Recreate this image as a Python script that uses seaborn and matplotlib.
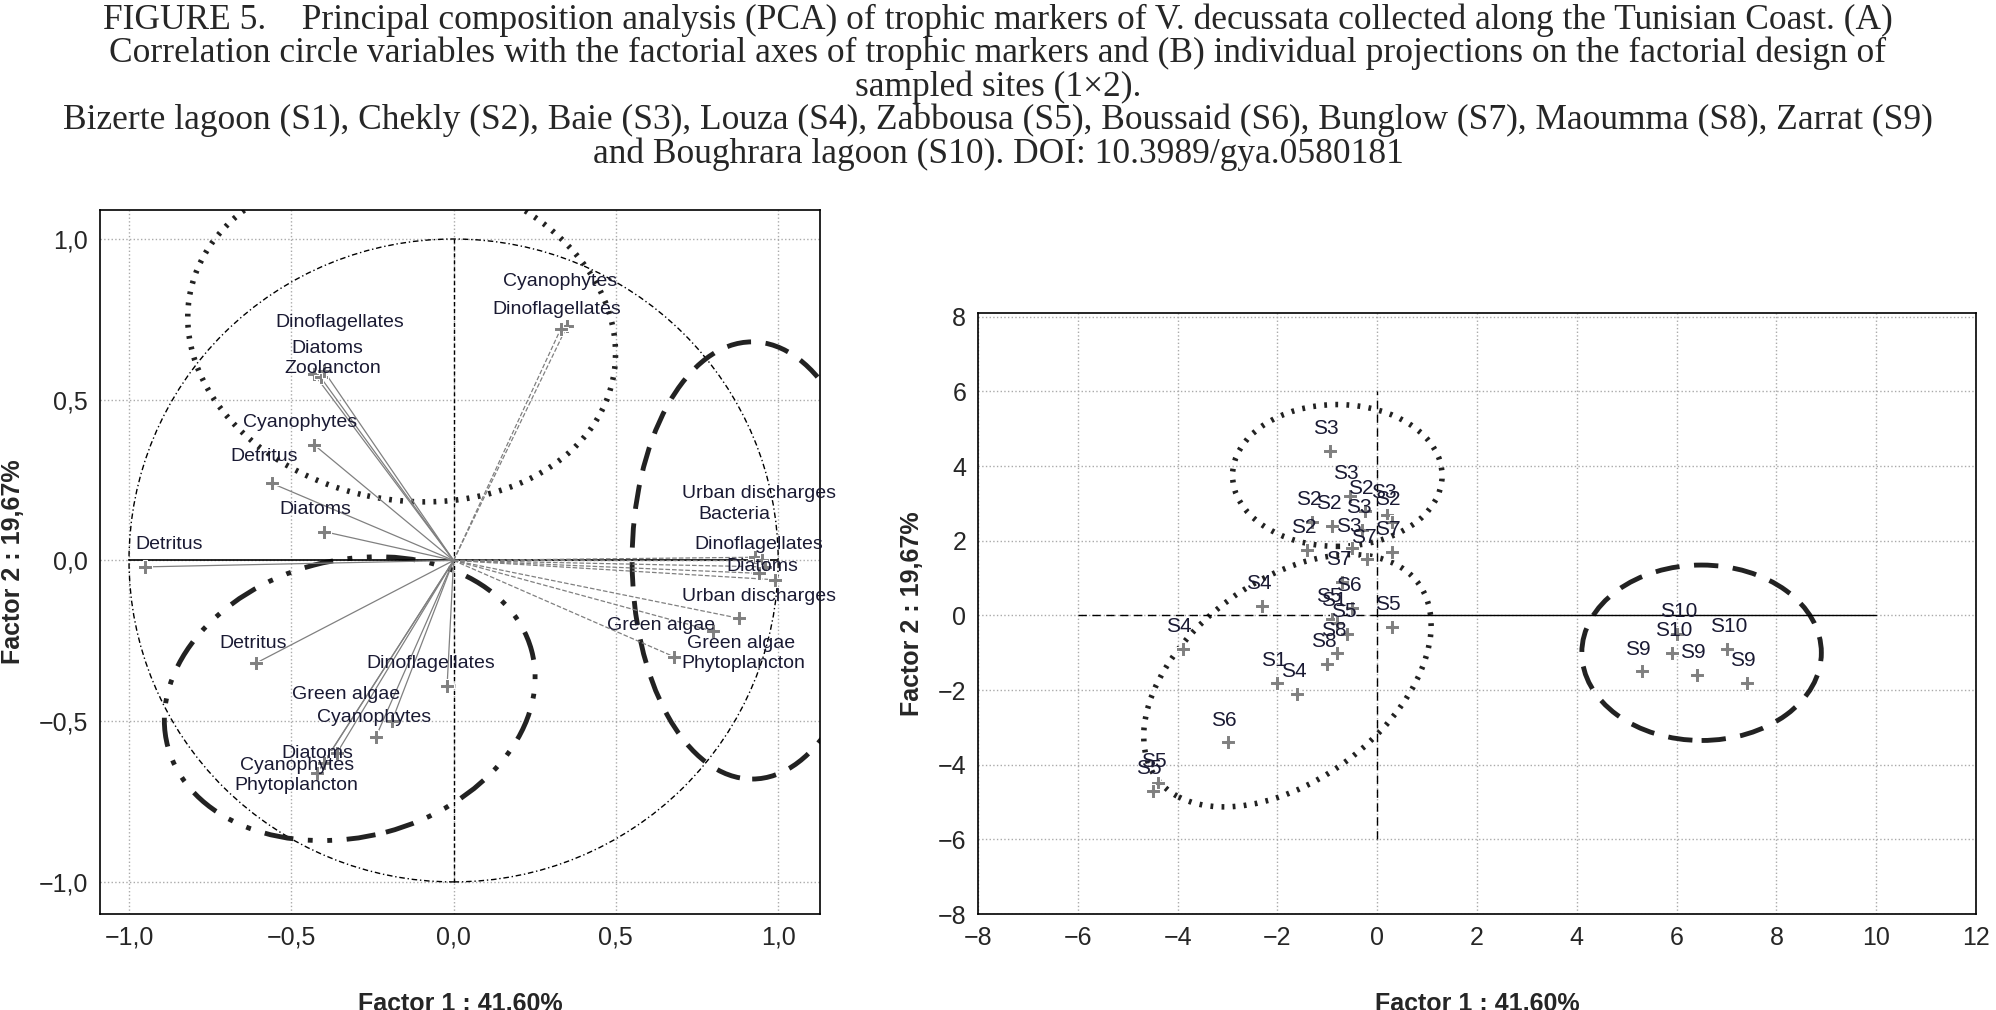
import pandas as pd
import seaborn as sns
import matplotlib.pyplot as plt
from matplotlib.patches import Ellipse, Circle

# ---- data: correlation circle (panel A)
var_names = ['Cyanophytes', 'Dinoflagellates', 'Dinoflagellates', 'Diatoms', 'Zoolancton',
             'Cyanophytes', 'Detritus', 'Diatoms', 'Detritus', 'Detritus',
             'Dinoflagellates', 'Green algae', 'Cyanophytes', 'Diatoms', 'Cyanophytes', 'Phytoplancton',
             'Urban discharges', 'Bacteria', 'Dinoflagellates', 'Diatoms', 'Urban discharges',
             'Green algae', 'Green algae', 'Phytoplancton']
var_f1 = [0.35, 0.33, -0.43, -0.41, -0.40, -0.43, -0.56, -0.40, -0.95, -0.61,
          -0.02, -0.19, -0.24, -0.36, -0.40, -0.42,
          0.93, 0.95, 0.96, 0.94, 0.99, 0.88, 0.80, 0.68]
var_f2 = [0.73, 0.72, 0.58, 0.57, 0.59, 0.36, 0.24, 0.09, -0.02, -0.32,
          -0.39, -0.50, -0.55, -0.60, -0.63, -0.66,
          0.01, 0.00, -0.02, -0.04, -0.06, -0.18, -0.22, -0.30]
var_style = ['--'] * 2 + ['-'] * 8 + ['-'] * 6 + ['--'] * 8
# label offsets (points) so the stacked names read like the original
var_dx = [-46, -49, -28, -21, -28, -51, -30, -32, -7, -26, -58, -72, -42, -40, -60, -60,
          -53, -46, -51, -23, -67, -95, -19, 5]
var_dy = [32, 14, 37, 21, 2, 16, 19, 16, 16, 14, 16, 19, 14, 0, -2, -9,
          46, 33, 16, 5, -12, -5, -9, -5]

# ---- data: individuals (panel B)
site_names = ['S3', 'S3', 'S3', 'S2', 'S2', 'S2', 'S2', 'S3', 'S2', 'S3', 'S7', 'S7', 'S7',
              'S4', 'S4', 'S5', 'S6', 'S5', 'S1', 'S5', 'S8', 'S8', 'S1', 'S4', 'S6', 'S5', 'S5',
              'S10', 'S10', 'S10', 'S9', 'S9', 'S9']
site_f1 = [-0.95, -0.55, 0.2, -1.3, -0.25, 0.3, -0.9, -0.3, -1.4, -0.5, -0.2, 0.3, -0.7,
           -2.3, -3.9, 0.3, -0.5, -0.9, -0.8, -0.6, -1.0, -0.8, -2.0, -1.6, -3.0, -4.4, -4.5,
           6.0, 7.0, 5.9, 5.3, 6.4, 7.4]
site_f2 = [4.4, 3.2, 2.7, 2.5, 2.8, 2.5, 2.4, 2.3, 1.75, 1.8, 1.5, 1.7, 0.9,
           0.25, -0.9, -0.3, 0.2, -0.1, -0.2, -0.5, -1.3, -1.0, -1.8, -2.1, -3.4, -4.5, -4.7,
           -0.5, -0.9, -1.0, -1.5, -1.6, -1.8]

va = pd.DataFrame({'name': var_names, 'f1': var_f1, 'f2': var_f2, 'ls': var_style,
                   'dx': var_dx, 'dy': var_dy})
ind = pd.DataFrame({'name': site_names, 'f1': site_f1, 'f2': site_f2})

sns.set_style('white')
plt.rcParams['font.family'] = ['Liberation Sans', 'DejaVu Sans']
narrow = ['Liberation Sans Narrow', 'Liberation Sans', 'DejaVu Sans']

fig = plt.figure(figsize=(19.96, 10.10), dpi=100)

title = ("FIGURE 5.    Principal composition analysis (PCA) of trophic markers of V. decussata collected along the Tunisian Coast. (A)\n"
         "Correlation circle variables with the factorial axes of trophic markers and (B) individual projections on the factorial design of\n"
         "sampled sites (1×2).\n"
         "Bizerte lagoon (S1), Chekly (S2), Baie (S3), Louza (S4), Zabbousa (S5), Boussaid (S6), Bunglow (S7), Maoumma (S8), Zarrat (S9)\n"
         "and Boughrara lagoon (S10). DOI: 10.3989/gya.0580181")
fig.text(0.5, 0.997, title, ha='center', va='top', fontsize=25.5,
         family=['Liberation Serif', 'DejaVu Serif'], linespacing=1.0)

grid_kw = dict(color='#aaaaaa', linestyle=':', linewidth=1)

# ---- panel A
ax1 = fig.add_axes([0.050, 0.095, 0.361, 0.697])
ax1.set_xlim(-1.09, 1.13)
ax1.set_ylim(-1.10, 1.09)
ax1.grid(True, **grid_kw)
ax1.add_patch(Circle((0, 0), 1, fill=False, ls=(0, (4, 2, 1, 2)), lw=1, color='black'))
ax1.plot([0, 0], [-1, 1], color='black', ls=(0, (3, 2)), lw=1)
ax1.plot([-1, 1], [0, 0], color='black', lw=1.2)
for _, r in va.iterrows():
    ax1.plot([0, r.f1], [0, r.f2], color='gray', lw=0.9, ls=r.ls)
sns.scatterplot(data=va, x='f1', y='f2', marker='P', color='gray', s=90, ax=ax1, zorder=3)
for _, r in va.iterrows():
    ax1.annotate(r['name'], (r.f1, r.f2), xytext=(r.dx, r.dy), textcoords='offset points',
                 fontsize=14, color='#1a1a33', ha='left', va='center', family=narrow)
ax1.add_patch(Ellipse((-0.16, 0.70), 1.33, 1.02, angle=-12, fill=False, ls=(0, (0.5, 1.5)), lw=4, color='#222'))
ax1.add_patch(Ellipse((0.92, 0.0), 0.74, 1.36, fill=False, ls=(0, (5, 3)), lw=3.5, color='#222'))
ax1.add_patch(Ellipse((-0.32, -0.43), 1.16, 0.86, angle=15, fill=False,
                      ls=(0, (6, 3, 1, 3, 1, 3)), lw=3.5, color='#222'))
ax1.set_xticks([-1, -0.5, 0, 0.5, 1])
ax1.set_yticks([-1, -0.5, 0, 0.5, 1])
ax1.set_xticklabels(['−1,0', '−0,5', '0,0', '0,5', '1,0'], fontsize=18)
ax1.set_yticklabels(['−1,0', '−0,5', '0,0', '0,5', '1,0'], fontsize=18)
ax1.set_xlabel('Factor 1 : 41,60%', fontsize=18, fontweight='bold', labelpad=30)
ax1.set_ylabel('Factor 2 : 19,67%', fontsize=18, fontweight='bold', labelpad=10)
ax1.tick_params(direction='out', length=5)

# ---- panel B
ax2 = fig.add_axes([0.49, 0.095, 0.50, 0.595])
ax2.set_xlim(-8, 12)
ax2.set_ylim(-8, 8.1)
ax2.grid(True, **grid_kw)
ax2.plot([-6, 0], [0, 0], color='black', ls=(0, (6, 4)), lw=1)
ax2.plot([0, 10], [0, 0], color='black', lw=1)
ax2.plot([0, 0], [-6, 6], color='black', ls=(0, (6, 4)), lw=1)
sns.scatterplot(data=ind, x='f1', y='f2', marker='P', color='gray', s=90, ax=ax2, zorder=3)
for _, r in ind.iterrows():
    ax2.annotate(r['name'], (r.f1, r.f2), xytext=(-12, 16), textcoords='offset points',
                 fontsize=15, color='#1a1a33', va='center')
ax2.add_patch(Ellipse((-0.8, 3.75), 4.2, 3.8, fill=False, ls=(0, (0.5, 1.5)), lw=4, color='#222'))
ax2.add_patch(Ellipse((-1.8, -1.75), 4.6, 7.6, angle=-35, fill=False, ls=(0, (0.5, 1.5)), lw=4, color='#222'))
ax2.add_patch(Ellipse((6.5, -1.0), 4.8, 4.7, fill=False, ls=(0, (5, 3)), lw=3.5, color='#222'))
ax2.set_xticks(range(-8, 13, 2))
ax2.set_yticks(range(-8, 9, 2))
ax2.set_xticklabels([str(t).replace('-', '−') for t in range(-8, 13, 2)], fontsize=18)
ax2.set_yticklabels([str(t).replace('-', '−') for t in range(-8, 9, 2)], fontsize=18)
ax2.set_xlabel('Factor 1 : 41,60%', fontsize=18, fontweight='bold', labelpad=30)
ax2.set_ylabel('Factor 2 : 19,67%', fontsize=18, fontweight='bold', labelpad=10)
ax2.tick_params(direction='out', length=5)

for ax in (ax1, ax2):
    for s in ax.spines.values():
        s.set_color('black')
        s.set_linewidth(1.2)

fig.savefig('out.png', dpi=100)
